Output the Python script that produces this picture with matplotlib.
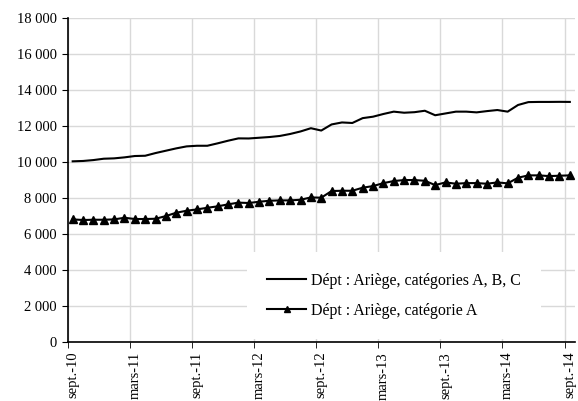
import numpy as np
import matplotlib
matplotlib.use("Agg")
import matplotlib.pyplot as plt
from matplotlib.ticker import FuncFormatter, FixedLocator

plt.rcParams['font.family'] = ['Liberation Serif', 'DejaVu Serif']

# mois de sept.-10 a sept.-14
mois = ['sept.-10', 'mars-11', 'sept.-11', 'mars-12', 'sept.-12',
        'mars-13', 'sept.-13', 'mars-14', 'sept.-14']

cat_abc = [10040, 10060, 10110, 10185, 10205, 10260, 10335, 10350, 10500, 10630,
           10760, 10870, 10905, 10905, 11040, 11185, 11315, 11310, 11350, 11390,
           11450, 11560, 11700, 11880, 11750, 12090, 12200, 12170, 12440, 12520,
           12670, 12800, 12740, 12770, 12850, 12600, 12700, 12800, 12800, 12760,
           12830, 12890, 12800, 13170, 13330, 13340, 13340, 13345, 13340]

cat_a = [6815, 6780, 6795, 6795, 6815, 6905, 6835, 6835, 6850, 7000,
         7185, 7295, 7370, 7460, 7540, 7650, 7745, 7725, 7795, 7850,
         7870, 7870, 7905, 8035, 8020, 8390, 8405, 8405, 8575, 8665,
         8830, 8945, 9000, 9000, 8960, 8720, 8870, 8795, 8830, 8830,
         8795, 8870, 8815, 9130, 9260, 9260, 9220, 9240, 9260]

x = np.arange(len(cat_abc))

fig = plt.figure(figsize=(5.78, 4.01), dpi=100)
ax = fig.add_axes([0.1168, 0.147, 0.878, 0.808])

ax.plot(x, cat_abc, color='black', lw=1.5, label='Dépt : Ariège, catégories A, B, C', zorder=3)
ax.plot(x, cat_a, color='black', lw=1.5, marker='^', ms=5.5,
        label='Dépt : Ariège, catégorie A', zorder=3)

ax.set_xlim(-0.5, len(x) - 0.5)
ax.set_ylim(0, 18000)
ax.set_yticks(np.arange(0, 18001, 2000))
ax.yaxis.set_major_formatter(FuncFormatter(lambda v, p: '{:,}'.format(int(v)).replace(',', ' ')))

ax.xaxis.set_major_locator(FixedLocator(np.arange(0, len(x), 6)))
ax.set_xticklabels(mois, rotation=90)
ax.xaxis.set_minor_locator(FixedLocator(np.arange(-0.5, len(x), 6)))
ax.tick_params(axis='x', which='major', length=0, pad=7, labelsize=10.5)
ax.tick_params(axis='x', which='minor', length=4, direction='out')
ax.tick_params(axis='y', length=4, direction='out', labelsize=10.5)

ax.grid(True, axis='y', which='major', color='#d9d9d9', lw=1)
ax.grid(True, axis='x', which='minor', color='#d9d9d9', lw=1)
ax.set_axisbelow(True)

for s in ['top', 'right']:
    ax.spines[s].set_visible(False)
for s in ['left', 'bottom']:
    ax.spines[s].set_linewidth(1.2)

leg = ax.legend(loc='upper left', bbox_to_anchor=(0.413, 0.391), bbox_transform=fig.transFigure,
                frameon=True, fancybox=False, edgecolor='none', facecolor='white', framealpha=1,
                fontsize=11.5, handlelength=2.4, handletextpad=0.3, labelspacing=0.85,
                borderpad=1.3, numpoints=1, markerscale=0.7)

fig.savefig('out.png', dpi=100)
